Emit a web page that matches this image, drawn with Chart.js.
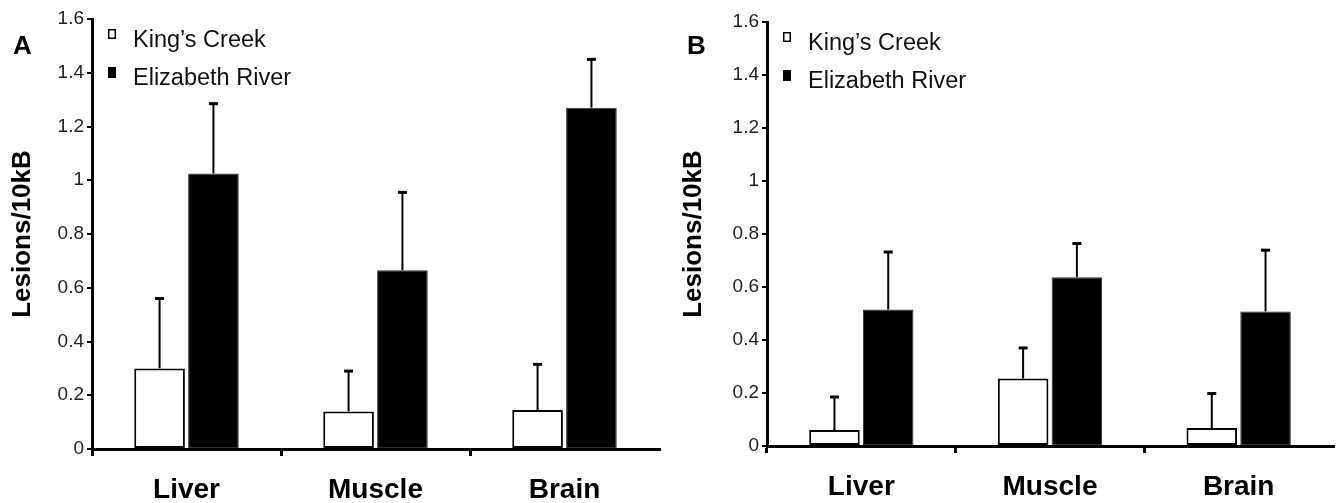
<!DOCTYPE html>
<html>
<head>
<meta charset="utf-8">
<script src="https://cdn.jsdelivr.net/npm/chart.js@4.4.1/dist/chart.umd.min.js"></script>
<style>
  html, body { margin: 0; padding: 0; background: #fff; }
  #wrap { position: relative; width: 1342px; height: 503px; }
  canvas { position: absolute; top: 0; }
  #chartA { left: 0; }
  #chartB { left: 671px; }
</style>
</head>
<body>
<div id="wrap">
  <canvas id="chartA" width="671" height="503"></canvas>
  <canvas id="chartB" width="671" height="503"></canvas>
</div>
<script>
const tissues = ["Liver", "Muscle", "Brain"];
const sites = ["King’s Creek", "Elizabeth River"];
const yTickLabels = ["0", "0.2", "0.4", "0.6", "0.8", "1", "1.2", "1.4", "1.6"];

// panel A
const kingsA = [0.30, 0.14, 0.145];
const kingsErrA = [0.26, 0.15, 0.17];
const elizA = [1.025, 0.665, 1.27];
const elizErrA = [0.26, 0.29, 0.18];

// panel B
const kingsB = [0.06, 0.255, 0.068];
const kingsErrB = [0.125, 0.115, 0.13];
const elizB = [0.515, 0.637, 0.508];
const elizErrB = [0.217, 0.127, 0.231];

const FONT = '"Liberation Sans", Arial, Helvetica, sans-serif';

// error bars (upper only) drawn from the bar top through the y scale
const errorBars = {
    id: "errorBars",
    afterDatasetsDraw(chart) {
        const ctx = chart.ctx;
        const yScale = chart.scales.y;
        chart.data.datasets.forEach((ds, i) => {
            const meta = chart.getDatasetMeta(i);
            meta.data.forEach((bar, j) => {
                const top = yScale.getPixelForValue(ds.data[j] + ds.errors[j]);
                ctx.save();
                ctx.strokeStyle = "#000";
                ctx.lineWidth = 2;
                ctx.beginPath();
                ctx.moveTo(bar.x, bar.y);
                ctx.lineTo(bar.x, top);
                ctx.stroke();
                ctx.lineWidth = 3;
                ctx.beginPath();
                ctx.moveTo(bar.x - 4.5, top);
                ctx.lineTo(bar.x + 4.5, top);
                ctx.stroke();
                ctx.restore();
            });
        });
    }
};

// panel letter + legend in the upper left of the plot
const panelDecor = {
    id: "panelDecor",
    afterDraw(chart, args, opts) {
        const ctx = chart.ctx;
        const area = chart.chartArea;
        ctx.save();
        ctx.fillStyle = "#000";
        ctx.font = "bold 26px " + FONT;
        ctx.textBaseline = "alphabetic";
        ctx.fillText(opts.letter, opts.letterX, 54);

        chart.data.datasets.forEach((ds, i) => {
            const cy = area.top + 22 + i * 38;
            const mx = area.left + 16;
            if (i === 0) {
                ctx.fillStyle = "#fff";
                ctx.fillRect(mx, cy - 12, 8, 10);
                ctx.strokeStyle = "#000";
                ctx.lineWidth = 1.5;
                ctx.strokeRect(mx + 0.75, cy - 11.25, 6.5, 8.5);
            } else {
                ctx.fillStyle = "#000";
                ctx.fillRect(mx, cy - 12, 8, 11);
            }
            ctx.fillStyle = "#111";
            ctx.font = "23.5px " + FONT;
            ctx.textBaseline = "middle";
            ctx.fillText(ds.label, area.left + 41, cy);
        });
        ctx.restore();
    }
};

function makePanel(id, kings, kingsErr, eliz, elizErr, letter, letterX, axisWidth, padTop, padRight, axisHeight) {
    return new Chart(document.getElementById(id), {
        type: "bar",
        data: {
            labels: tissues,
            datasets: [{
                label: sites[0],
                data: kings,
                errors: kingsErr,
                backgroundColor: "#fff",
                borderColor: "#000",
                borderWidth: 2,
                borderSkipped: false
            }, {
                label: sites[1],
                data: eliz,
                errors: elizErr,
                backgroundColor: "#000",
                borderColor: "#333",
                borderWidth: 1,
                borderSkipped: false
            }]
        },
        options: {
            responsive: false,
            animation: false,
            devicePixelRatio: 1,
            categoryPercentage: 0.57,
            barPercentage: 0.94,
            layout: { padding: { left: 0, top: padTop, right: padRight, bottom: 0 } },
            plugins: {
                legend: { display: false },
                tooltip: { enabled: false },
                panelDecor: { letter: letter, letterX: letterX }
            },
            scales: {
                x: {
                    grid: {
                        offset: true,
                        drawOnChartArea: false,
                        drawTicks: true,
                        tickLength: 7,
                        lineWidth: 3,
                        color: c => c.type === "tick" ? "#000" : "rgba(0,0,0,0)"
                    },
                    border: { display: true, color: "#000", width: 3 },
                    ticks: {
                        color: "#000",
                        padding: 17,
                        font: { family: FONT, size: 28, weight: "bold" }
                    },
                    afterFit: s => { s.height = axisHeight; }
                },
                y: {
                    min: 0,
                    max: 1.6,
                    ticks: {
                        stepSize: 0.2,
                        color: "#222",
                        padding: 3,
                        font: { family: FONT, size: 19 },
                        callback: (v, i) => yTickLabels[i]
                    },
                    grid: {
                        drawOnChartArea: false,
                        drawTicks: true,
                        tickLength: 5,
                        lineWidth: 2,
                        color: "#000"
                    },
                    border: { display: true, color: "#000", width: 3 },
                    title: {
                        display: true,
                        text: "Lesions/10kB",
                        color: "#000",
                        padding: { top: 7, bottom: 0 },
                        font: { family: FONT, size: 26, weight: "bold" }
                    },
                    afterFit: s => { s.width = axisWidth; }
                }
            }
        },
        plugins: [errorBars, panelDecor]
    });
}

makePanel("chartA", kingsA, kingsErrA, elizA, elizErrA, "A", 13, 92, 19, 12, 54);
makePanel("chartB", kingsB, kingsErrB, elizB, elizErrB, "B", 16, 96, 22, 9, 57);
</script>
</body>
</html>
